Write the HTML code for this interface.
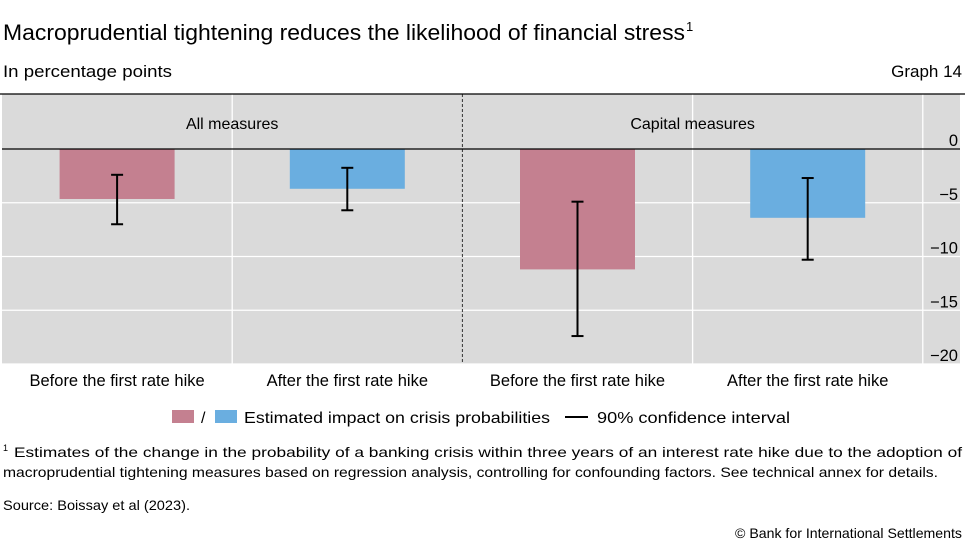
<!DOCTYPE html>
<html><head><meta charset="utf-8"><style>
body{margin:0;width:965px;height:550px;background:#fff;font-family:"Liberation Sans",sans-serif;color:#000;overflow:hidden}
svg{position:absolute;left:0;top:0}
</style></head><body>
<svg width="965" height="550">
<text x="3" y="40" font-size="22" textLength="682" lengthAdjust="spacingAndGlyphs">Macroprudential tightening reduces the likelihood of financial stress</text>
<text x="686" y="31" font-size="13">1</text>
<text x="3" y="77" font-size="17" textLength="169" lengthAdjust="spacingAndGlyphs">In percentage points</text>
<text x="962" y="77" font-size="17" text-anchor="end">Graph 14</text>
<g id="plot"></g>
<g>
<rect x="172" y="410" width="22" height="13" fill="#c48090"/>
<text x="201" y="423" font-size="16">/</text>
<rect x="215" y="410" width="22" height="13" fill="#6aaee0"/>
<text x="244" y="423" font-size="16" textLength="306" lengthAdjust="spacingAndGlyphs">Estimated impact on crisis probabilities</text>
<line x1="565" y1="417" x2="588" y2="417" stroke="#000" stroke-width="2"/>
<text x="597" y="423" font-size="16" textLength="193" lengthAdjust="spacingAndGlyphs">90% confidence interval</text>
</g>
<text x="3" y="451" font-size="9">1</text>
<text x="14" y="457" font-size="14" textLength="948" lengthAdjust="spacingAndGlyphs">Estimates of the change in the probability of a banking crisis within three years of an interest rate hike due to the adoption of</text>
<text x="3" y="477" font-size="14" textLength="935" lengthAdjust="spacingAndGlyphs">macroprudential tightening measures based on regression analysis, controlling for confounding factors. See technical annex for details.</text>
<text x="3" y="510" font-size="14" textLength="187" lengthAdjust="spacingAndGlyphs">Source: Boissay et al (2023).</text>
<text x="962" y="538" font-size="14" text-anchor="end" textLength="227" lengthAdjust="spacingAndGlyphs">© Bank for International Settlements</text>
</svg>
<script>
const categories=["Before the first rate hike","After the first rate hike","Before the first rate hike","After the first rate hike"];
const groups=["All measures","Capital measures"];
const values=[-4.65,-3.7,-11.2,-6.4];
const ciLow=[-7.0,-5.7,-17.4,-10.3];
const ciHigh=[-2.4,-1.75,-4.9,-2.7];
const yTicks=[0,-5,-10,-15,-20];
const colors=["#c48090","#6aaee0","#c48090","#6aaee0"];
const NS="http://www.w3.org/2000/svg";
const g=document.getElementById('plot');


const X0=2,X1=960,Y0=94,Y1=364,catW=230.2;
const y=v=>149-v*10.75;
const xc=i=>X0+catW*(i+0.5);
function el(t,a,name){const e=document.createElementNS(NS,t);for(const k in a)e.setAttribute(k,a[k]);g.appendChild(e);return e;}
el('rect',{x:X0,y:Y0,width:X1-X0,height:Y1-Y0,fill:"#dadada"},'plot-background');
yTicks.forEach((t,i)=>{if(t!==0)el('line',{x1:X0,x2:X1,y1:y(t),y2:y(t),stroke:"#fff","stroke-width":1.3},'gridline-'+i);
 const tx=el('text',{x:958,y:y(t)-3,"font-size":16.5,"text-anchor":"end"},'y-tick-label-'+i);tx.textContent=t===0?"0":"\u2212"+Math.abs(t);});
[1,3,4].forEach(k=>el('line',{x1:X0+catW*k,x2:X0+catW*k,y1:Y0,y2:Y1,stroke:"#fff","stroke-width":1.3},'vertical-gridline-'+k));
el('line',{x1:X0+catW*2,x2:X0+catW*2,y1:Y0,y2:Y1,stroke:"#333","stroke-width":1,"stroke-dasharray":"3,2"},'group-divider');
el('line',{x1:0,x2:965,y1:Y0,y2:Y0,stroke:"#000","stroke-width":1.2},'top-border');
groups.forEach((s,i)=>{const t=el('text',{x:X0+catW*(2*i+1),y:129,"font-size":16,"text-anchor":"middle"},'group-label-'+i);t.textContent=s;});
values.forEach((v,i)=>{
 el('rect',{x:xc(i)-57.5,y:y(0),width:115,height:y(v)-y(0),fill:colors[i]},'bar-'+i);
 el('line',{x1:xc(i),x2:xc(i),y1:y(ciHigh[i]),y2:y(ciLow[i]),stroke:"#000","stroke-width":2},'ci-line-'+i);
 el('line',{x1:xc(i)-6,x2:xc(i)+6,y1:y(ciHigh[i]),y2:y(ciHigh[i]),stroke:"#000","stroke-width":2},'ci-cap-high-'+i);
 el('line',{x1:xc(i)-6,x2:xc(i)+6,y1:y(ciLow[i]),y2:y(ciLow[i]),stroke:"#000","stroke-width":2},'ci-cap-low-'+i);
 const t=el('text',{x:xc(i),y:386,"font-size":16.5,"text-anchor":"middle"},'x-category-label-'+i);t.textContent=categories[i];
});
el('line',{x1:X0,x2:X1,y1:y(0),y2:y(0),stroke:"#000","stroke-width":1.3},'zero-line');
</script>
</body></html>
